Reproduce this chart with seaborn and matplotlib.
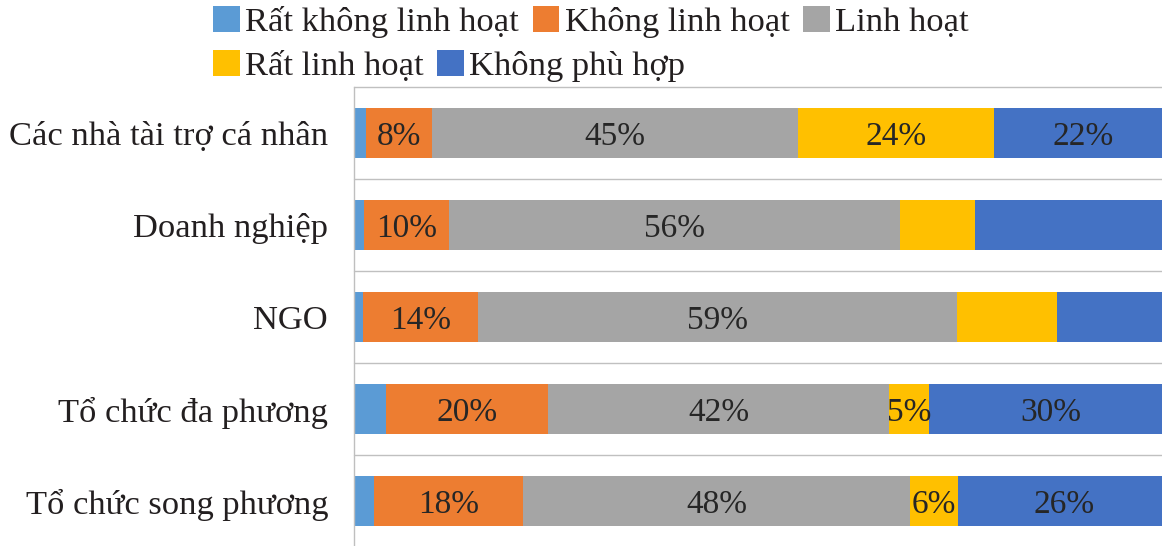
import matplotlib.pyplot as plt
from matplotlib.patches import Patch
import numpy as np
import seaborn as sns

# data (percent of respondents)
categories = ['Các nhà tài trợ cá nhân', 'Doanh nghiệp', 'NGO',
              'Tổ chức đa phương', 'Tổ chức song phương']
series = ['Rất không linh hoạt', 'Không linh hoạt', 'Linh hoạt',
          'Rất linh hoạt', 'Không phù hợp']
rat_khong_linh_hoat = [1.5, 1.2, 1.1, 3.9, 2.5]
khong_linh_hoat = [8.1, 10.5, 14.1, 20.0, 18.3]
linh_hoat = [45.0, 55.5, 59.0, 41.9, 47.6]
rat_linh_hoat = [24.1, 9.2, 12.3, 4.9, 5.9]
khong_phu_hop = [22.0, 23.6, 13.5, 30.0, 26.0]
# text shown inside each segment, one list per series ('' = not shown)
labels_rat_khong = ['', '', '', '', '']
labels_khong = ['8%', '10%', '14%', '20%', '18%']
labels_linh_hoat = ['45%', '56%', '59%', '42%', '48%']
labels_rat_linh = ['24%', '', '', '5%', '6%']
labels_khong_phu_hop = ['22%', '', '', '30%', '26%']

colors = ['#5B9BD5', '#ED7D31', '#A5A5A5', '#FFC000', '#4472C4']

sns.set_style('white')
plt.rcParams['font.family'] = ['Liberation Serif', 'DejaVu Serif']
FS = 24
W, H = 1162, 546

values = np.array([rat_khong_linh_hoat, khong_linh_hoat, linh_hoat,
                   rat_linh_hoat, khong_phu_hop])
labels = [labels_rat_khong, labels_khong, labels_linh_hoat,
          labels_rat_linh, labels_khong_phu_hop]
cum = values.cumsum(axis=0)

fig = plt.figure(figsize=(W / 100, H / 100), dpi=100)
ax = fig.add_axes([354 / W, -1 / H, 813 / W, 460 / H])

# stacked bars: draw the cumulative totals from the last series backwards
for i in range(len(series) - 1, -1, -1):
    sns.barplot(x=cum[i], y=categories, color=colors[i], width=0.54,
                orient='h', saturation=1, linewidth=0, ax=ax)

for i in range(len(series)):
    for j in range(len(categories)):
        if labels[i][j]:
            ax.text(cum[i, j] - values[i, j] / 2, j, labels[i][j],
                    ha='center', va='center_baseline', fontsize=FS,
                    color='#262626')

for k in range(len(categories) + 1):
    ax.axhline(k - 0.5, color='#C0C0C0', lw=1.0, clip_on=False, zorder=0)

ax.set_xlim(0, 100)
ax.set_xticks([])
ax.set_xlabel('')
ax.set_ylabel('')
for side in ['top', 'right', 'bottom']:
    ax.spines[side].set_visible(False)
ax.spines['left'].set_color('#BFBFBF')
ax.spines['left'].set_linewidth(1.0)
ax.tick_params(axis='y', length=0, pad=18.7, labelsize=24.8, labelcolor='#231F20')

handles = [Patch(facecolor=c, edgecolor='none') for c in colors]
leg_kw = dict(loc='center left', frameon=False, fontsize=24.8,
              handlelength=0.78, handleheight=0.78, handletextpad=0.15,
              columnspacing=0.4, borderpad=0, borderaxespad=0,
              labelcolor='#231F20')
fig.legend(handles[:3], series[:3], ncol=3,
           bbox_to_anchor=(213 / W, 1 - 22 / H), **leg_kw)
fig.legend(handles[3:], series[3:], ncol=2,
           bbox_to_anchor=(213 / W, 1 - 66 / H), **leg_kw)

fig.savefig('out.png', dpi=100)
